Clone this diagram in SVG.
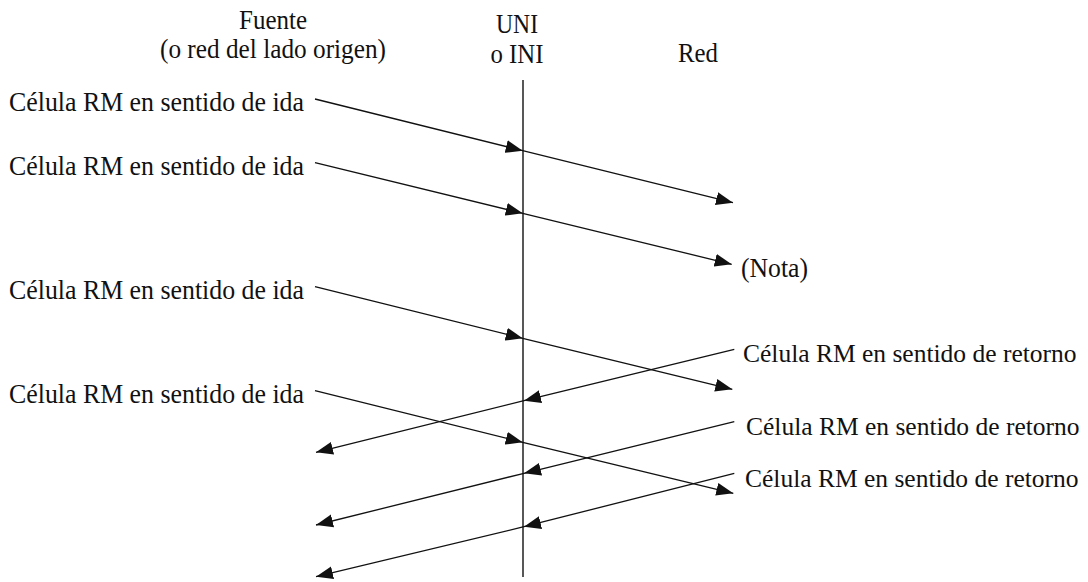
<svg xmlns="http://www.w3.org/2000/svg" width="1088" height="582" viewBox="0 0 1088 582">
  <defs>
    <marker id="arrow" markerUnits="userSpaceOnUse" markerWidth="18" markerHeight="14" refX="17" refY="7" orient="auto">
      <path d="M0,0.5 L17,7 L0,13.5 z" fill="#111"/>
    </marker>
    <style>
      .lbl { font-family: 'Liberation Serif', 'Times New Roman', serif; font-size: 28px; fill: #111; }
      .ret { font-size: 25.5px; }
      .mid { text-anchor: middle; }
      .flow { fill: none; stroke: #111; stroke-width: 1.3; marker-mid: url(#arrow); marker-end: url(#arrow); }
      .axis { stroke: #111; stroke-width: 1.4; }
    </style>
  </defs>

  <rect width="1088" height="582" fill="#fff"/>

  <!-- column headings -->
  <g id="source">
    <text class="lbl mid" x="273" y="29" textLength="68" lengthAdjust="spacingAndGlyphs">Fuente</text>
    <text class="lbl mid" x="273" y="58" textLength="226" lengthAdjust="spacingAndGlyphs">(o red del lado origen)</text>
  </g>
  <g id="interface">
    <text class="lbl mid" x="517" y="33" textLength="42" lengthAdjust="spacingAndGlyphs">UNI</text>
    <text class="lbl mid" x="517" y="63" textLength="53" lengthAdjust="spacingAndGlyphs">o INI</text>
    <line class="axis" x1="523" y1="80" x2="523" y2="577"/>
  </g>
  <g id="network">
    <text class="lbl" x="678" y="62" textLength="40" lengthAdjust="spacingAndGlyphs">Red</text>
  </g>

  <!-- forward RM cell labels -->
  <g id="forward-labels">
    <text class="lbl" x="9" y="111" textLength="295" lengthAdjust="spacingAndGlyphs">Célula RM en sentido de ida</text>
    <text class="lbl" x="9" y="175" textLength="295" lengthAdjust="spacingAndGlyphs">Célula RM en sentido de ida</text>
    <text class="lbl" x="9" y="299" textLength="295" lengthAdjust="spacingAndGlyphs">Célula RM en sentido de ida</text>
    <text class="lbl" x="9" y="403" textLength="295" lengthAdjust="spacingAndGlyphs">Célula RM en sentido de ida</text>
  </g>

  <!-- backward RM cell labels -->
  <g id="backward-labels">
    <text class="lbl" x="741" y="277" textLength="67" lengthAdjust="spacingAndGlyphs">(Nota)</text>
    <text class="lbl ret" x="743" y="362">Célula RM en sentido de retorno</text>
    <text class="lbl ret" x="746" y="435">Célula RM en sentido de retorno</text>
    <text class="lbl ret" x="745" y="487">Célula RM en sentido de retorno</text>
  </g>

  <!-- cell flows crossing the interface -->
  <g id="connectors">
    <path class="flow" d="M315,99 L522.7,150.7 L733,202.7"/>
    <path class="flow" d="M315,162.7 L522.7,213.3 L731.7,264.3"/>
    <path class="flow" d="M315,286.7 L522.7,338.3 L732.3,389.3"/>
    <path class="flow" d="M315,390.7 L522.7,442.3 L733.3,493.3"/>
    <path class="flow" d="M734.3,349.3 L524,400.7 L316,452.3"/>
    <path class="flow" d="M734.3,421.7 L524,473.3 L316,525"/>
    <path class="flow" d="M734.3,473.3 L524,526.7 L316,576.7"/>
  </g>
</svg>
